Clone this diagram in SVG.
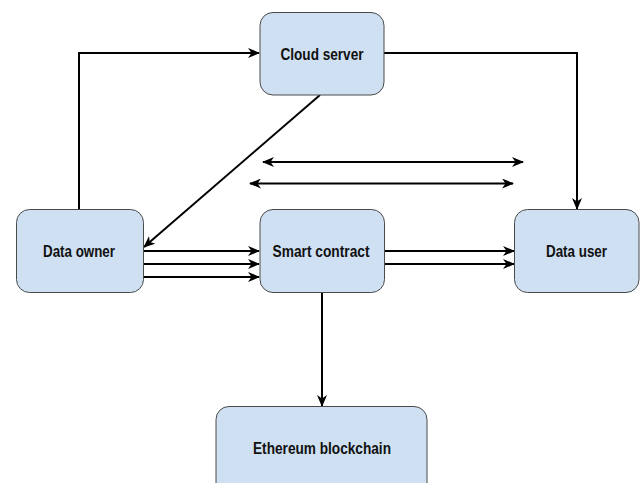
<svg xmlns="http://www.w3.org/2000/svg" width="640" height="483" viewBox="0 0 640 483">
<style>
.box{fill:#cfe0f2;stroke:#4a4a4a;stroke-width:1}
.lbl{font-family:"Liberation Sans",Arial,sans-serif;font-weight:bold;font-size:16px;fill:#111;text-anchor:middle;dominant-baseline:central}
.c{fill:none;stroke:#000;stroke-width:2}
</style>
<defs>
<marker id="ah" viewBox="0 0 12 10" refX="11" refY="5" markerWidth="12" markerHeight="10" markerUnits="userSpaceOnUse" orient="auto-start-reverse">
<path d="M0,0 L12,5 L0,10 L3.5,5 z" fill="#000"/>
</marker>
</defs>
<rect width="640" height="483" fill="#fff"/>
<g id="connectors">
<path class="c" d="M79,210 V53 H259" marker-end="url(#ah)"/>
<path class="c" d="M384,53 H577 V209" marker-end="url(#ah)"/>
<path class="c" d="M320,95 L144,247" marker-end="url(#ah)"/>
<path class="c" d="M263,162 H523" marker-start="url(#ah)" marker-end="url(#ah)"/>
<path class="c" d="M250,183.5 H513" marker-start="url(#ah)" marker-end="url(#ah)"/>
<path class="c" d="M144,251 H259" marker-end="url(#ah)"/>
<path class="c" d="M144,264 H259" marker-end="url(#ah)"/>
<path class="c" d="M144,277 H259" marker-end="url(#ah)"/>
<path class="c" d="M385,251 H514" marker-end="url(#ah)"/>
<path class="c" d="M385,264 H514" marker-end="url(#ah)"/>
<path class="c" d="M322,292 V406" marker-end="url(#ah)"/>
</g>
<g id="cloud-server">
<rect class="box" x="260" y="12.5" width="124" height="82.5" rx="13"/>
<text class="lbl" x="322" y="54" textLength="83" lengthAdjust="spacingAndGlyphs">Cloud server</text>
</g>
<g id="data-owner">
<rect class="box" x="16.5" y="209.5" width="127" height="83" rx="13"/>
<text class="lbl" x="79" y="251.5" textLength="72" lengthAdjust="spacingAndGlyphs">Data owner</text>
</g>
<g id="smart-contract">
<rect class="box" x="260" y="209.5" width="124.5" height="83" rx="13"/>
<text class="lbl" x="321" y="251.5" textLength="97" lengthAdjust="spacingAndGlyphs">Smart contract</text>
</g>
<g id="data-user">
<rect class="box" x="514.5" y="209.5" width="124.5" height="83" rx="13"/>
<text class="lbl" x="576.5" y="251.5" textLength="61" lengthAdjust="spacingAndGlyphs">Data user</text>
</g>
<g id="ethereum-blockchain">
<rect class="box" x="216" y="406.5" width="211" height="90" rx="13"/>
<text class="lbl" x="322" y="448" textLength="138" lengthAdjust="spacingAndGlyphs">Ethereum blockchain</text>
</g>
</svg>
